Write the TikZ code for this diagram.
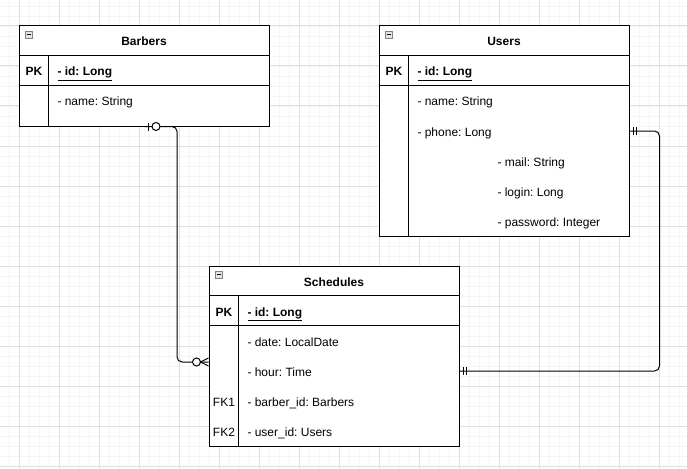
\documentclass[tikz,border=0pt]{standalone}
\usepackage{fontspec}
\setmainfont{Liberation Sans}
\usepackage{tikz}
\frenchspacing

\begin{document}
\begin{tikzpicture}[x=1pt, y=-1pt, line width=1pt,
  tbl/.style={draw, fill=white, minimum width=250pt, inner sep=0pt},
  title/.style={anchor=base, font=\fontsize{12}{14}\selectfont\bfseries},
  key/.style={anchor=base, font=\fontsize{12}{14}\selectfont\bfseries},
  fk/.style={anchor=base, font=\fontsize{12}{14}\selectfont},
  field/.style={anchor=base west, inner sep=0pt, font=\fontsize{12}{14}\selectfont},
  idfield/.style={field, font=\fontsize{12}{14}\selectfont\bfseries},
  minus/.style={draw=gray, fill=gray!20, line width=0.8pt, minimum size=7pt, inner sep=0pt}]
\useasboundingbox (0,0) rectangle (687,468);
\fill[white] (0,0) rectangle (687,468);

% grid
\foreach \gx in {9,19,...,679} \draw[black!4, line width=0.8pt] (\gx,0) -- (\gx,468);
\foreach \gy in {6,16,...,466} \draw[black!4, line width=0.8pt] (0,\gy) -- (687,\gy);
\foreach \gx in {19,59,...,659} \draw[black!12] (\gx,0) -- (\gx,468);
\foreach \gy in {26,66,...,466} \draw[black!12] (0,\gy) -- (687,\gy);

% Barbers
\node (barbers) at (144,76) [tbl, minimum height=100pt]{};
\draw (barbers.north west) ++(0,30) -- ++(250,0) ++(-250,30) -- ++(250,0);
\draw (barbers.north west) ++(30,30) -- ++(0,70);
\node (barbers-min) at (28.5,34.5) [minus]{};
\draw[line width=0.8pt] ([xshift=-2pt]barbers-min.center) -- ([xshift=2pt]barbers-min.center);
\node (barbers-title) at (144,46) [title]{Barbers};
\node (barbers-pk) at (34,76) [key]{PK};
\node (barbers-id) at (57,76) [idfield]{\underline{- id: Long}};
\node (barbers-name) at (57,106) [field]{- name: String};

% Users
\node (users) at (504,131) [tbl, minimum height=210pt]{};
\draw (users.north west) ++(0,30) -- ++(250,0) ++(-250,30) -- ++(250,0);
\draw (users.north west) ++(30,30) -- ++(0,180);
\node (users-min) at (388.5,34.5) [minus]{};
\draw[line width=0.8pt] ([xshift=-2pt]users-min.center) -- ([xshift=2pt]users-min.center);
\node (users-title) at (504,46) [title]{Users};
\node (users-pk) at (394,76) [key]{PK};
\node (users-id) at (417,76) [idfield]{\underline{- id: Long}};
\node (users-name) at (417,106) [field]{- name: String};
\node (users-phone) at (417,136) [field]{- phone: Long};
\node (users-mail) at (497,166) [field]{- mail: String};
\node (users-login) at (497,196) [field]{- login: Long};
\node (users-pass) at (497,226) [field]{- password: Integer};

% Schedules
\node (sched) at (334,356) [tbl, minimum height=180pt]{};
\draw (sched.north west) ++(0,30) -- ++(250,0) ++(-250,30) -- ++(250,0);
\draw (sched.north west) ++(30,30) -- ++(0,150);
\node (sched-min) at (218.5,274.5) [minus]{};
\draw[line width=0.8pt] ([xshift=-2pt]sched-min.center) -- ([xshift=2pt]sched-min.center);
\node (sched-title) at (334,286) [title]{Schedules};
\node (sched-pk) at (224,316) [key]{PK};
\node (sched-id) at (247,316) [idfield]{\underline{- id: Long}};
\node (sched-date) at (247,346) [field]{- date: LocalDate};
\node (sched-hour) at (247,376) [field]{- hour: Time};
\node (sched-fk1) at (224,406) [fk]{FK1};
\node (sched-barber) at (247,406) [field]{- barber\_id: Barbers};
\node (sched-fk2) at (224,436) [fk]{FK2};
\node (sched-user) at (247,436) [field]{- user\_id: Users};

% Barbers |o---<o Schedules
\draw [rounded corners=5pt] (barbers.south) -- ++(33,0) |- ([yshift=-6pt]sched.west);
\draw ([xshift=4pt]barbers.south) ++(0,-4) -- ++(0,8);
\draw [fill=white] ([xshift=12pt]barbers.south) circle (4pt);
\draw [fill=white] ([xshift=-12pt,yshift=-6pt]sched.west) circle (4pt);
\draw ([yshift=-2pt]sched.west) -- ([xshift=-8pt,yshift=-6pt]sched.west) -- ([yshift=-10pt]sched.west);

% Users ||---|| Schedules
\draw [rounded corners=5pt] (users.east) -- ++(30,0) |- ([yshift=-15pt]sched.east);
\draw ([xshift=4pt]users.east) ++(0,-4) -- ++(0,8);
\draw ([xshift=7pt]users.east) ++(0,-4) -- ++(0,8);
\draw ([xshift=4pt,yshift=-15pt]sched.east) ++(0,-4) -- ++(0,8);
\draw ([xshift=7pt,yshift=-15pt]sched.east) ++(0,-4) -- ++(0,8);

\end{tikzpicture}
\end{document}
